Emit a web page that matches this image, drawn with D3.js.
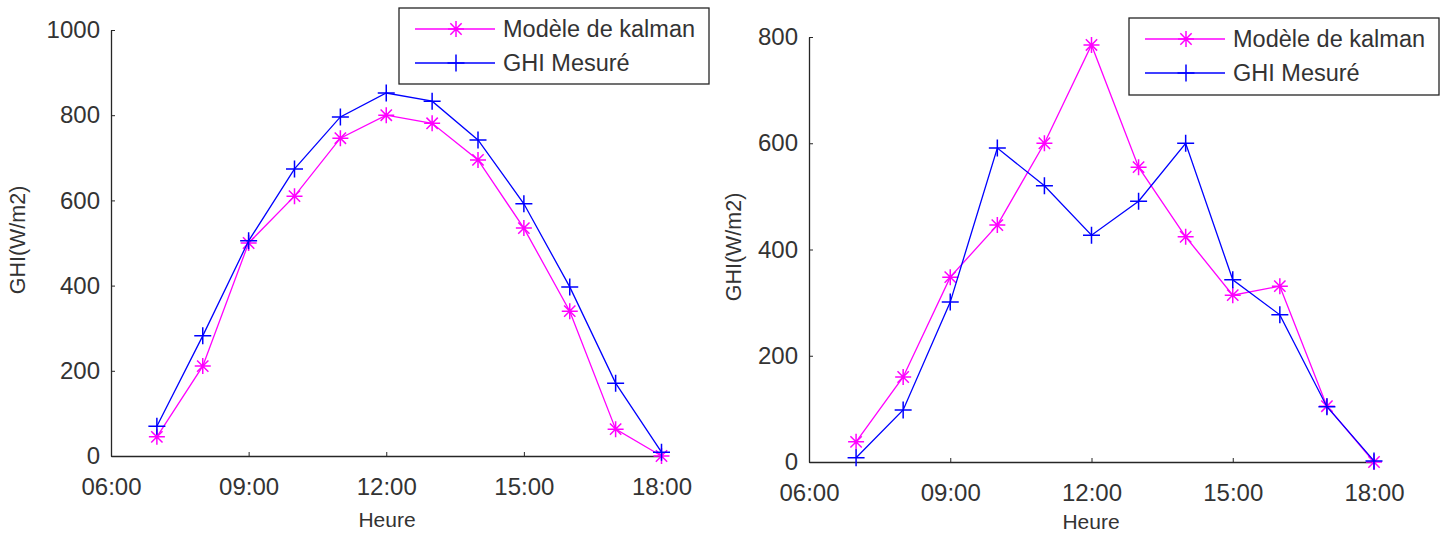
<!DOCTYPE html>
<html>
<head>
<meta charset="utf-8">
<script src="https://cdn.jsdelivr.net/npm/d3@7"></script>
<style>
  html, body { margin: 0; padding: 0; background: #fff; }
  svg { display: block; font-family: "Liberation Sans", Arial, sans-serif; }
</style>
</head>
<body>
<svg id="chart" width="1449" height="535"></svg>
<script>
// Heures de mesure (h)
const heures = [7, 8, 9, 10, 11, 12, 13, 14, 15, 16, 17, 18];

// Journée 1 : GHI (W/m2)
const kalmanJour1 = [45, 211, 500, 610, 746, 800, 781, 695, 535, 340, 63, 0];
const mesureJour1 = [70, 282, 505, 674, 796, 852, 833, 742, 592, 397, 171, 9];

// Journée 2 : GHI (W/m2)
const kalmanJour2 = [38, 160, 348, 446, 600, 785, 555, 424, 314, 331, 105, 0];
const mesureJour2 = [8, 98, 301, 591, 520, 427, 491, 600, 343, 277, 104, 2];

// Graduations
const xTickHeures = [6, 9, 12, 15, 18];
const xTickLabels = ["06:00", "09:00", "12:00", "15:00", "18:00"];
const yTicksJour1 = [0, 200, 400, 600, 800, 1000];
const yTicksJour2 = [0, 200, 400, 600, 800];

const seriesNames = ["Modèle de kalman", "GHI Mesuré"];
const colors = { kalman: "#ff00ff", mesure: "#0000ff" };
const axisColor = "#262626";
const textColor = "#333333";

const svg = d3.select("#chart");

const panels = [
  {
    kalman: kalmanJour1, mesure: mesureJour1, yTicks: yTicksJour1, yMax: 1000,
    x0: 111, x1: 661.5, yTop: 30, yBottom: 456,
    ylab: [18, 240], xlab: [387, 527],
    legend: { x: 399, y: 8, w: 310, h: 76, rows: [29, 63] }
  },
  {
    kalman: kalmanJour2, mesure: mesureJour2, yTicks: yTicksJour2, yMax: 800,
    x0: 809, x1: 1374, yTop: 37, yBottom: 462,
    ylab: [734, 247], xlab: [1091, 529],
    legend: { x: 1129, y: 18, w: 310, h: 77, rows: [39, 73] }
  }
];

// Marqueurs : étoile (*) et plus (+)
function starPath(r) {
  const d = r * Math.SQRT1_2;
  return `M${-r},0H${r}M0,${-r}V${r}M${-d},${-d}L${d},${d}M${-d},${d}L${d},${-d}`;
}
function plusPath(r) {
  return `M${-r},0H${r}M0,${-r}V${r}`;
}

panels.forEach(p => {
  const x = d3.scaleLinear().domain([6, 18]).range([p.x0, p.x1]);
  const y = d3.scaleLinear().domain([0, p.yMax]).range([p.yBottom, p.yTop]);

  // Axe des abscisses
  const gx = svg.append("g")
    .attr("transform", `translate(0,${p.yBottom})`)
    .call(d3.axisBottom(x)
      .tickValues(xTickHeures)
      .tickFormat((d, i) => xTickLabels[i])
      .tickSizeInner(-4).tickSizeOuter(0).tickPadding(22));

  // Axe des ordonnées
  const gy = svg.append("g")
    .attr("transform", `translate(${p.x0},0)`)
    .call(d3.axisLeft(y)
      .tickValues(p.yTicks)
      .tickFormat(d3.format("d"))
      .tickSizeInner(-4).tickSizeOuter(0).tickPadding(11));

  [gx, gy].forEach(g => {
    g.select(".domain").attr("stroke", axisColor).attr("stroke-width", 1.3);
    g.selectAll(".tick line").attr("stroke", axisColor).attr("stroke-width", 1);
    g.selectAll(".tick text")
      .attr("fill", textColor)
      .attr("font-size", 24)
      .attr("font-family", "Liberation Sans, Arial, sans-serif");
  });

  // Titres des axes
  svg.append("text")
    .attr("transform", `translate(${p.ylab[0]},${p.ylab[1]}) rotate(-90)`)
    .attr("text-anchor", "middle")
    .attr("dominant-baseline", "central")
    .attr("font-size", 21.5)
    .attr("fill", textColor)
    .text("GHI(W/m2)");

  svg.append("text")
    .attr("x", p.xlab[0]).attr("y", p.xlab[1])
    .attr("text-anchor", "middle")
    .attr("font-size", 21)
    .attr("fill", textColor)
    .text("Heure");

  // Courbes
  const line = d3.line().x((d, i) => x(heures[i])).y(d => y(d));
  const series = [
    { vals: p.kalman, color: colors.kalman, marker: starPath(8) },
    { vals: p.mesure, color: colors.mesure, marker: plusPath(8.5) }
  ];
  series.forEach(s => {
    svg.append("path")
      .datum(s.vals)
      .attr("d", line)
      .attr("fill", "none")
      .attr("stroke", s.color)
      .attr("stroke-width", 1.3);
    svg.append("g").selectAll("path")
      .data(s.vals)
      .join("path")
      .attr("transform", (d, i) => `translate(${x(heures[i])},${y(d)})`)
      .attr("d", s.marker)
      .attr("fill", "none")
      .attr("stroke", s.color)
      .attr("stroke-width", 1.5);
  });

  // Légende
  const L = p.legend;
  const lg = svg.append("g");
  lg.append("rect")
    .attr("x", L.x).attr("y", L.y).attr("width", L.w).attr("height", L.h)
    .attr("fill", "#fff").attr("stroke", axisColor).attr("stroke-width", 1.3);
  series.forEach((s, i) => {
    const yy = L.rows[i];
    lg.append("line")
      .attr("x1", L.x + 16).attr("x2", L.x + 96)
      .attr("y1", yy).attr("y2", yy)
      .attr("stroke", s.color).attr("stroke-width", 1.3);
    lg.append("path")
      .attr("transform", `translate(${L.x + 57},${yy})`)
      .attr("d", s.marker)
      .attr("fill", "none").attr("stroke", s.color).attr("stroke-width", 1.5);
    lg.append("text")
      .attr("x", L.x + 104).attr("y", yy)
      .attr("dominant-baseline", "central")
      .attr("font-size", 23.5)
      .attr("fill", textColor)
      .text(seriesNames[i]);
  });
});
</script>
</body>
</html>
